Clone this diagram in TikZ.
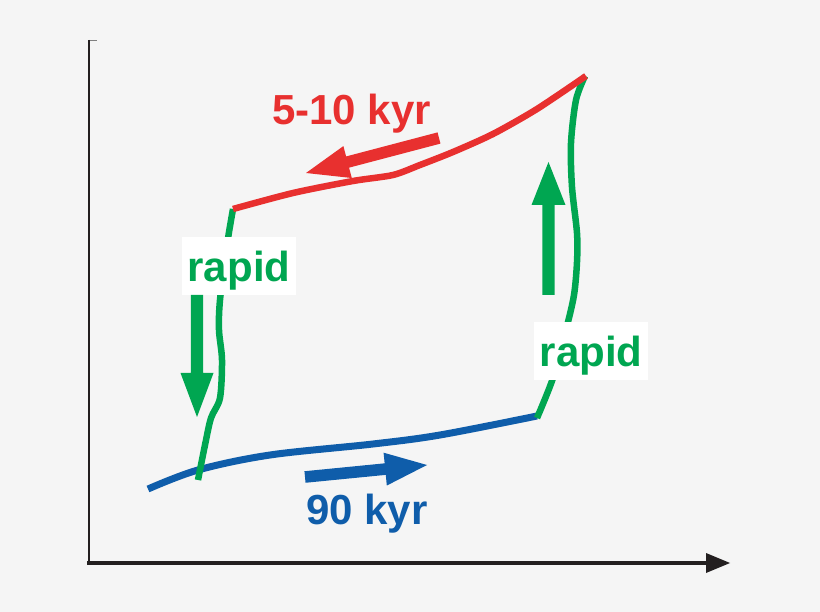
\documentclass[tikz,border=0pt]{standalone}
\usepackage{fontspec}
\setmainfont{Liberation Sans}
\usetikzlibrary{calc}
\definecolor{bg}{HTML}{F5F5F5}
\definecolor{axiscol}{HTML}{231F20}
\definecolor{cred}{HTML}{E8302F}
\definecolor{cgreen}{HTML}{00A651}
\definecolor{cblue}{HTML}{0F5DAA}
\newcommand{\fatarrow}[6]{%
  \coordinate (fab) at ($(#3)!#5!(#2)$);
  \fill[#1] ($(#2)!#4!90:(#3)$) -- ($(fab)!#4!90:(#3)$) -- ($(fab)!#6!90:(#3)$)
    -- (#3) -- ($(fab)!#6!-90:(#3)$) -- ($(fab)!#4!-90:(#3)$) -- ($(#2)!#4!-90:(#3)$) -- cycle;
}
\tikzset{
  curve/.style={line width=#1, line cap=butt, line join=round},
  label42/.style={font=\fontsize{42}{48}\selectfont\bfseries, inner sep=0pt},
  rapidbox/.style={label42, text=cgreen, fill=white, minimum width=114pt, minimum height=58pt,
    text height=36pt, text depth=4pt},
}
\begin{document}
\begin{tikzpicture}[x=1pt,y=-1pt]
\fill[bg] (0,0) rectangle (820,612);
\useasboundingbox (0,0) rectangle (820,612);
% axes
\coordinate (ytop) at (89,40);
\coordinate (origin) at (89,563);
\coordinate (xstart) at (87,563);
\coordinate (xline) at (708,563);
\coordinate (xtip) at (730,563);
\coordinate (tickend) at (97,40.6);
\draw[gray, line width=1.2pt] ($(ytop)+(0,0.6)$) -- (tickend);
\draw[axiscol, line width=2.6pt] (ytop) -- (origin);
\draw[axiscol, line width=4pt] (xstart) -- (xline);
\fill[axiscol] (706,553) -- (xtip) -- (706,573) -- cycle;
% blue curve
\draw[cblue, curve=7pt] plot[smooth, tension=0.55] coordinates
  {(148,489) (198,470) (270,455) (373,444) (440,435) (537,416)};
% green curves
\draw[cgreen, curve=6.5pt] plot[smooth, tension=0.5] coordinates
  {(233,209) (227,245) (220,300) (219,330) (222,360) (220,398) (211,418) (205,445) (198,480)};
\draw[cgreen, curve=6.5pt] plot[smooth, tension=0.5] coordinates
  {(585,76) (576,100) (571,143) (572,187) (577,233) (577,262) (574,295) (566,330) (553,378) (537,418)};
% red curve
\draw[cred, curve=6.5pt] plot[smooth, tension=0.45] coordinates
  {(233,209) (293,193) (353,181) (393,175) (420,165) (453,152) (493,134) (537,109) (586,76)};
% labels in boxes
\node[rapidbox] (rapidleft) at (239,266) {rapid};
\node[rapidbox] (rapidright) at (591,351) {rapid};
% fat arrows
\coordinate (redtail) at (439,138);
\coordinate (redtip) at (306,173);
\fatarrow{cred}{redtail}{redtip}{5.8pt}{43pt}{16.5pt}
\coordinate (bluetail) at (305,477);
\coordinate (bluetip) at (427,465);
\fatarrow{cblue}{bluetail}{bluetip}{5.8pt}{42pt}{16.5pt}
\coordinate (gltail) at (197,295);
\coordinate (gltip) at (197,417);
\fatarrow{cgreen}{gltail}{gltip}{6.2pt}{44pt}{16.5pt}
\coordinate (grtail) at (548.5,295);
\coordinate (grtip) at (548.5,162);
\fatarrow{cgreen}{grtail}{grtip}{6.2pt}{43pt}{17pt}
% text labels
\node[label42, text=cred, anchor=base] (redlabel) at (351.5,125) {5-10 kyr};
\node[label42, text=cblue, anchor=base] (bluelabel) at (367,524) {90 kyr};
\end{tikzpicture}
\end{document}
